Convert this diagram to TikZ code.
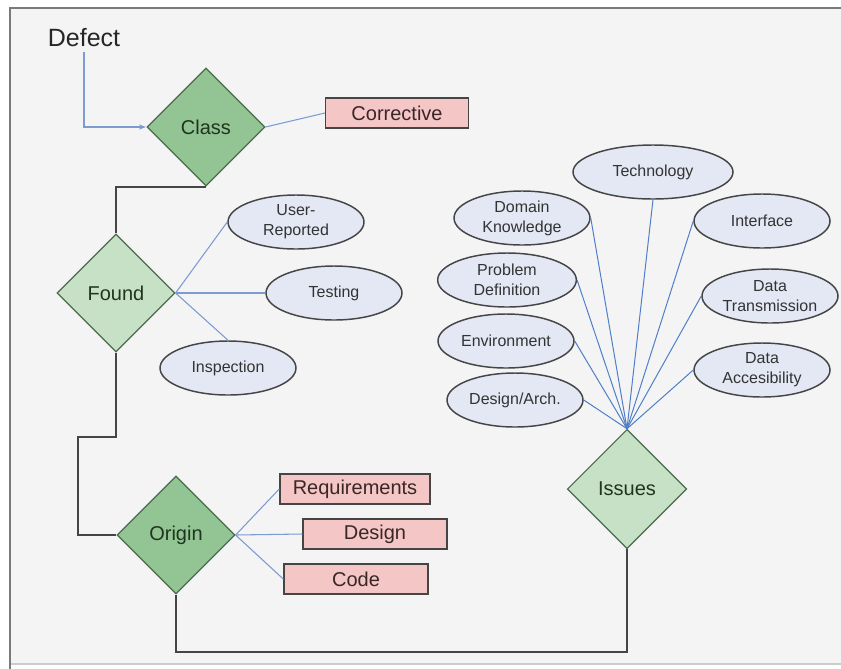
\documentclass[tikz,border=0pt]{standalone}
\usepackage{fontspec}
\setmainfont{Liberation Sans}
\usetikzlibrary{shapes.geometric,arrows.meta}

\definecolor{fondo}{HTML}{F4F4F4}
\definecolor{marco}{HTML}{7A7A7A}
\definecolor{verdeosc}{HTML}{93C493}
\definecolor{verdecla}{HTML}{C6E1C6}
\definecolor{verdeborde}{HTML}{4C6A4C}
\definecolor{verdetexto}{HTML}{1F351F}
\definecolor{rosa}{HTML}{F4C6C6}
\definecolor{celeste}{HTML}{E3E8F4}
\definecolor{azul}{HTML}{7C9BD0}
\definecolor{azulfuerte}{HTML}{4F7FC9}
\definecolor{gris}{HTML}{454545}
\definecolor{textocaja}{HTML}{3A2626}

\begin{document}
\begin{tikzpicture}[x=0.75pt,y=-0.75pt,
    rombo/.style={diamond,draw=verdeborde,line width=0.9pt,minimum size=88.5pt,
      inner sep=0pt,text=verdetexto,font=\fontsize{15}{18}\selectfont},
    caja/.style={rectangle,draw=gris,line width=1.1pt,fill=rosa,minimum height=22.5pt,
      inner sep=0pt,text=textocaja,font=\fontsize{15}{18}\selectfont},
    elipse/.style={ellipse,draw=gris,line width=1.1pt,fill=celeste,minimum width=102pt,
      minimum height=40.5pt,inner sep=0pt,align=center,text=black!80,
      font=\fontsize{12}{15}\selectfont},
    enlace/.style={azul,line width=0.8pt},
    rayo/.style={azulfuerte,line width=0.75pt},
    flujo/.style={gris,line width=1.4pt}]
    \useasboundingbox (0,0) rectangle (841,668);

    % Fondo y marco
    \fill[fondo] (10,8) rectangle (860,664);
    \draw[black!20,line width=0.8pt] (10,664) -- (860,664);
    \draw[marco,line width=1.8pt] (10,680) -- (10,8) -- (860,8);

    % Rombos
    \node[rombo,fill=verdeosc] (class) at (206,127) {Class};
    \node[rombo,fill=verdecla] (found) at (116,293) {Found};
    \node[rombo,fill=verdeosc] (origin) at (176,535) {Origin};
    \node[rombo,fill=verdecla,minimum size=89.5pt] (issues) at (627,489) {Issues};

    % Texto de entrada
    \node[font=\fontsize{18.75}{22}\selectfont,text=black!85] (defect) at (84,38) {Defect};

    % Cajas
    \node[caja,minimum width=107pt] (corrective) at (397,113) {Corrective};
    \node[caja,minimum width=112.5pt] (requirements) at (355,489) {Requirements};
    \node[caja,minimum width=108pt] (design) at (375,534) {Design};
    \node[caja,minimum width=108pt] (code) at (356,579) {Code};

    % Elipses de Found
    \node[elipse] (userrep) at (296,222) {User-\\Reported};
    \node[elipse] (testing) at (334,293) {Testing};
    \node[elipse] (inspection) at (228,368) {Inspection};

    % Elipses de Issues
    \node[elipse,minimum width=120pt] (technology) at (653,172) {Technology};
    \node[elipse] (domain) at (522,218) {Domain\\Knowledge};
    \node[elipse] (interface) at (762,221) {Interface};
    \node[elipse,minimum width=104pt] (problem) at (507,280) {Problem\\Definition};
    \node[elipse] (transmission) at (770,296) {Data\\Transmission};
    \node[elipse] (environment) at (506,341) {Environment};
    \node[elipse] (accesibility) at (762,370) {Data\\Accesibility};
    \node[elipse] (designarch) at (515,400) {Design/Arch.};

    % Flujo principal
    \draw[azul,line width=0.8pt,-{Latex[length=5pt,width=4pt]}] (defect.south) |- (class.west);
    \draw[flujo] (class.south) -| (found.north);
    \coordinate (codo) at (78,437);
    \draw[flujo] (found.south) |- (codo) |- (origin.west);
    \draw[flujo] (origin.south) -- ++(0,57) -| (issues.south);

    % Enlaces
    \draw[enlace] (class.east) -- (corrective.west);
    \draw[enlace] (found.east) -- (userrep.west);
    \draw[enlace] (found.east) -- (testing.west);
    \draw[enlace] (found.east) -- (inspection.north);
    \draw[enlace] (origin.east) -- (requirements.west);
    \draw[enlace] (origin.east) -- (design.west);
    \draw[enlace] (origin.east) -- (code.west);

    % Abanico de Issues
    \foreach \destino in {technology.south,domain.east,interface.west,problem.east,
        transmission.west,environment.east,accesibility.west,designarch.east}
      \draw[rayo] (issues.north) -- (\destino);
\end{tikzpicture}
\end{document}
